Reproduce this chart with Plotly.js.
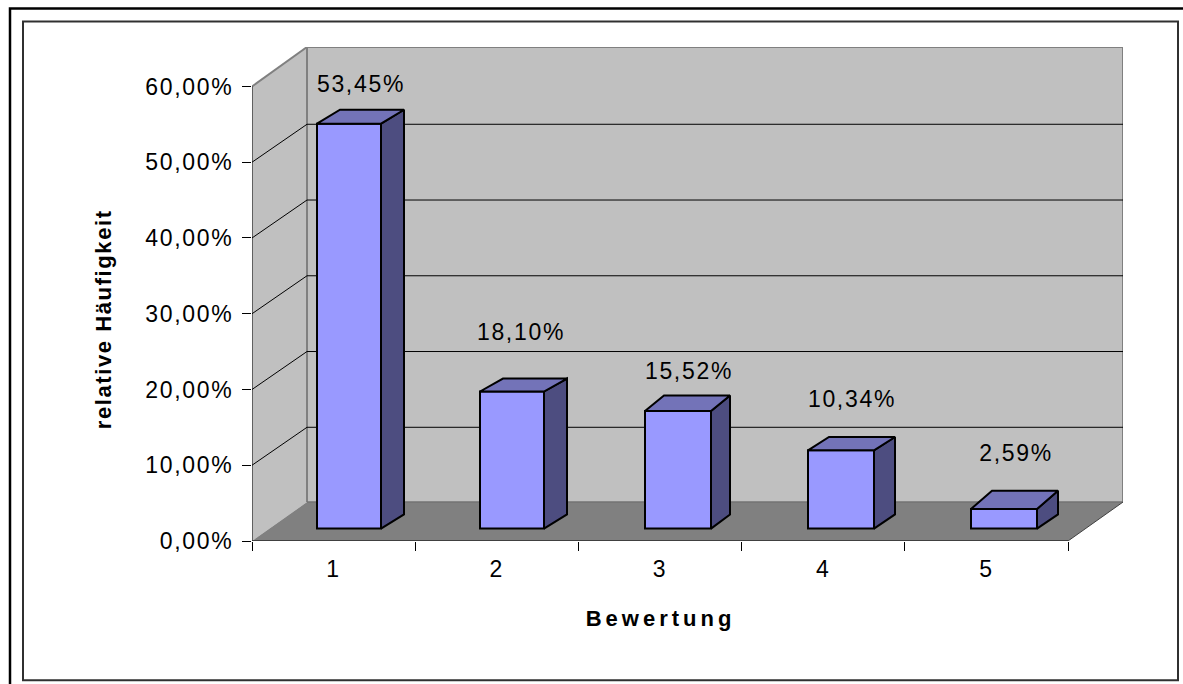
<!DOCTYPE html>
<html>
<head>
<meta charset="utf-8">
<script src="https://cdn.plot.ly/plotly-3.0.1.min.js"></script>
<style>
html,body{margin:0;padding:0;background:#fff}
#chart{width:1183px;height:684px}
svg text{letter-spacing:1.7px}
.annotation[data-index="0"] text{letter-spacing:4px}
.annotation[data-index="1"] text{letter-spacing:1.6px}
</style>
</head>
<body>
<div id="chart"></div>
<script>
// Data
const categories = [1, 2, 3, 4, 5];
const shares = [53.45, 18.10, 15.52, 10.34, 2.59];
const yTicks = [0, 10, 20, 30, 40, 50, 60];
const yTickLabels = ['0,00%', '10,00%', '20,00%', '30,00%', '40,00%', '50,00%', '60,00%'];
const barLabels = ['53,45%', '18,10%', '15,52%', '10,34%', '2,59%'];

// Geometry of the drawing, in pixels, per bar
const barShiftPx = [15.4, 15.2, 18, 17.8, 17.6];
const barWidthPx = [64, 64, 66, 66, 66];
const barSidePx = [23, 23, 19, 21, 21];
const barTopPx = [14, 13, 15.6, 13.3, 18.3];
const labelShiftPx = [27.4, 24.2, 29, 28.8, 29.6];
const labelLiftPx = [50.4, 69.8, 50.4, 61.6, 66.4];

// Frame of the plot (pixels) and the oblique projection (data units)
const W = 1183, H = 684, L = 252, R = 1123, T = 46.5, B = 541;
const catPx = 163.2, valPx = 7.583;
const xMin = 0.5, xMax = xMin + (R - L) / catPx, yMax = (B - T) / valPx;
const wallDx = 55 / catPx, wallDy = 39 / valPx, gridDy = 38 / valPx;
const barOffY = 12.4 / valPx, barBackDy = 14.2 / valPx;
const xLast = xMin + categories.length;

const poly = pts => 'M' + pts.map(p => p[0] + ' ' + p[1]).join(' L') + ' Z';
const seg = (x0, y0, x1, y1, color, width) => ({type: 'line', layer: 'below', xref: 'x', yref: 'y',
  x0, y0, x1, y1, line: {color, width}});
const wall = (pts, fill) => ({type: 'path', layer: 'below', xref: 'x', yref: 'y', path: poly(pts),
  fillcolor: fill, line: {width: 0}});
const px = v => (v - L) / (R - L), py = v => (B - v) / (B - T);
const frame = (x0, y0, x1, y1, color, width) => ({type: 'rect', xref: 'paper', yref: 'paper', layer: 'below',
  x0: px(x0), x1: px(x1), y0: py(y0), y1: py(y1), line: {color, width}});

const yTop = yTicks[yTicks.length - 1];
const shapes = [
  frame(10, 8, 1300, 800, '#000000', 2.5),
  frame(23, 21, 1178, 680.5, '#303030', 2),
  wall([[xMin + wallDx, wallDy], [xMax, wallDy], [xMax, yMax], [xMin + wallDx, yMax]], '#C0C0C0'),
  wall([[xMin, 0], [xMin + wallDx, wallDy], [xMin + wallDx, yMax], [xMin, yTop]], '#C0C0C0'),
  wall([[xMin, 0], [xLast, 0], [xMax, wallDy], [xMin + wallDx, wallDy]], '#808080'),
  seg(xMin, yTop, xMin + wallDx, yMax, '#808080', 2),
  seg(xMin + wallDx, yMax, xMax, yMax, '#808080', 2),
  seg(xMin + wallDx, wallDy, xMin + wallDx, yMax, '#808080', 2),
  seg(xMax, wallDy, xMax, yMax, '#808080', 2),
  seg(xMin + wallDx, wallDy, xMax, wallDy, '#737373', 1.5),
  seg(xLast, 0, xMax, wallDy, '#404040', 1)
];
yTicks.slice(1, -1).forEach(v => {
  shapes.push(seg(xMin, v, xMin + wallDx, v + gridDy, '#000000', 1));
  shapes.push(seg(xMin + wallDx, v + gridDy, xMax, v + gridDy, '#000000', 1));
});
shapes.push(seg(xMin, 0, xMin, yTop, '#000000', 1));
shapes.push(seg(xMin, 0, xLast, 0, '#000000', 1));

// Side and top faces follow from each value
const barX = categories.map((c, i) => c + barShiftPx[i] / catPx);
const barW = barWidthPx.map(w => w / catPx);
const sideX = [], sideY = [], topX = [], topY = [];
categories.forEach((c, i) => {
  const xl = barX[i] - barW[i] / 2, xr = barX[i] + barW[i] / 2;
  const dx = barSidePx[i] / catPx, dt = barTopPx[i] / valPx;
  const yb = barOffY, yt = barOffY + shares[i];
  sideX.push(xr, xr + dx, xr + dx, xr, xr, null);
  sideY.push(yb, yb + barBackDy, yt + dt, yt, yb, null);
  topX.push(xl, xr, xr + dx, xl + dx, xl, null);
  topY.push(yt, yt, yt + dt, yt + dt, yt, null);
});

const traces = [
  {type: 'bar', x: barX, y: shares, base: barOffY, width: barW,
   marker: {color: '#9999FF', line: {color: '#000000', width: 2}}, hoverinfo: 'skip', showlegend: false},
  {type: 'scatter', mode: 'lines', x: sideX, y: sideY, fill: 'toself', fillcolor: '#4D4D80',
   line: {color: '#000000', width: 2}, hoverinfo: 'skip', showlegend: false},
  {type: 'scatter', mode: 'lines', x: topX, y: topY, fill: 'toself', fillcolor: '#7373B8',
   line: {color: '#000000', width: 2}, hoverinfo: 'skip', showlegend: false},
  {type: 'scatter', mode: 'text', xaxis: 'x2', yaxis: 'y',
   x: categories.map((c, i) => c + labelShiftPx[i] / catPx), y: shares.map((v, i) => v + labelLiftPx[i] / valPx),
   text: barLabels, textposition: 'middle center', cliponaxis: false,
   textfont: {family: 'Liberation Sans, Arial, sans-serif', size: 23, color: '#000000'},
   hoverinfo: 'skip', showlegend: false}
];

const tickFont = {family: 'Liberation Sans, Arial, sans-serif', size: 23, color: '#000000'};
const layout = {
  width: W, height: H, showlegend: false, autosize: false,
  paper_bgcolor: '#FFFFFF', plot_bgcolor: 'rgba(0,0,0,0)',
  margin: {l: L, r: W - R, t: T, b: H - B, pad: 0},
  barmode: 'overlay', shapes,
  xaxis: {range: [xMin, xMax], tickmode: 'array',
    tickvals: categories.concat([xLast]).map(c => c === xLast ? c : c - 0.5),
    ticktext: categories.concat([xLast]).map(() => ' '),
    ticks: 'outside', ticklen: 9, tickwidth: 1, tickcolor: '#000000',
    showgrid: false, zeroline: false, showline: false, tickfont: tickFont},
  xaxis2: {overlaying: 'x', side: 'bottom', anchor: 'y', range: [xMin, xMax], tickmode: 'array',
    tickvals: categories, ticktext: categories.map(String), ticks: 'outside', ticklen: 7,
    tickcolor: 'rgba(0,0,0,0)', showgrid: false, zeroline: false, showline: false, tickfont: tickFont},
  yaxis: {range: [0, yMax], tickmode: 'array', tickvals: yTicks, ticktext: yTickLabels,
    ticks: 'outside', ticklen: 9, tickwidth: 1, tickcolor: '#000000', ticklabelstandoff: 4,
    showgrid: false, zeroline: false, showline: false, tickfont: tickFont},
  annotations: [
    {xref: 'paper', yref: 'paper', x: px(660), y: py(619), text: '<b>Bewertung</b>', showarrow: false,
     xanchor: 'center', yanchor: 'middle', font: {family: 'Liberation Sans, Arial, sans-serif', size: 22, color: '#000000'}},
    {xref: 'paper', yref: 'paper', x: px(103), y: py(319), text: '<b>relative Häufigkeit</b>', showarrow: false,
     textangle: -90, xanchor: 'center', yanchor: 'middle', font: {family: 'Liberation Sans, Arial, sans-serif', size: 22, color: '#000000'}}
  ]
};
Plotly.newPlot('chart', traces, layout, {displayModeBar: false, responsive: false});
</script>
</body>
</html>
